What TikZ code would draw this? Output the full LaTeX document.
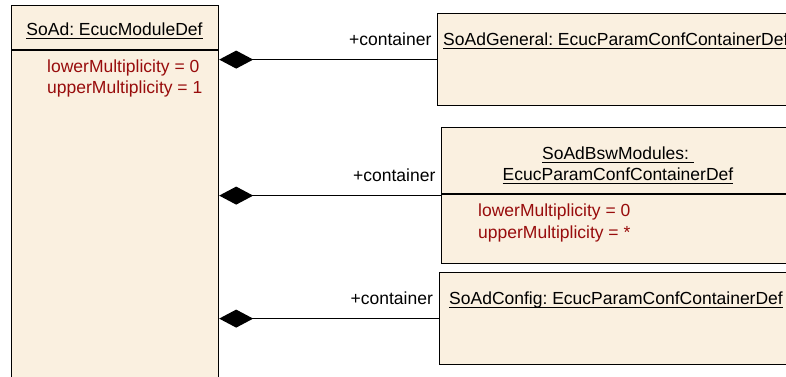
\documentclass[tikz,border=0pt]{standalone}
\usepackage{fontspec}
\setmainfont{Liberation Sans}
\usetikzlibrary{arrows.meta}
\definecolor{boxfill}{RGB}{250,240,224}
\definecolor{attrred}{RGB}{152,12,12}
\newcommand\ultext[1]{\setbox0\hbox{#1}\rlap{\rule[-4.2pt]{\wd0}{1.2pt}}\box0}
\frenchspacing

\begin{document}
\begin{tikzpicture}[x=1pt,y=-1pt,
    umlbox/.style={draw,line width=1.2pt,fill=boxfill,anchor=north west,inner sep=0pt,minimum width=360pt},
    txt/.style={inner sep=0pt,anchor=base west,font=\fontsize{17.5}{21}\selectfont},
    attr/.style={txt,text=attrred},
    role/.style={txt,anchor=base east,xshift=-5pt,yshift=14pt},
    comp/.style={line width=1.2pt,{Diamond[length=34pt,width=18pt]}-}]
  \clip (0,0) rectangle (786,376);
  % module
  \node[umlbox,minimum width=207pt,minimum height=420pt] (soad) at (11,5) {};
  \draw[line width=1.2pt] ([yshift=-45pt]soad.north west) -- ([yshift=-45pt]soad.north east);
  \node[txt,anchor=base] (soadname) at (114.5,35) {\ultext{SoAd: EcucModuleDef}};
  \node[attr] (soadlower) at (47,72.5) {lowerMultiplicity = 0};
  \node[attr] (soadupper) at (47,93) {upperMultiplicity = 1};
  % containers
  \node[umlbox,minimum height=92pt] (general) at (437,13) {};
  \node[txt] (generalname) at (443,45) {\ultext{SoAdGeneral: EcucParamConfContainerDef}};
  \node[umlbox,minimum height=136pt] (bsw) at (441,127) {};
  \draw[line width=1.2pt] ([yshift=-67pt]bsw.north west) -- ([yshift=-67pt]bsw.north east);
  \node[txt,anchor=base] (bswname) at (618,159) {\ultext{SoAdBswModules:\ }};
  \node[txt,anchor=base] (bswtype) at (618,180) {\ultext{EcucParamConfContainerDef}};
  \node[attr] (bswlower) at (478,216) {lowerMultiplicity = 0};
  \node[attr] (bswupper) at (478,238) {upperMultiplicity = *};
  \node[umlbox,minimum height=92pt] (config) at (438.5,272) {};
  \node[txt] (configname) at (449,304) {\ultext{SoAdConfig: EcucParamConfContainerDef}};
  % compositions
  \draw[comp] (soad.east |- general.west) -- (general.west) node[role] {+container};
  \draw[comp] (soad.east |- bsw.west) -- (bsw.west) node[role] {+container};
  \draw[comp] (soad.east |- config.west) -- (config.west) node[role] {+container};
\end{tikzpicture}
\end{document}
